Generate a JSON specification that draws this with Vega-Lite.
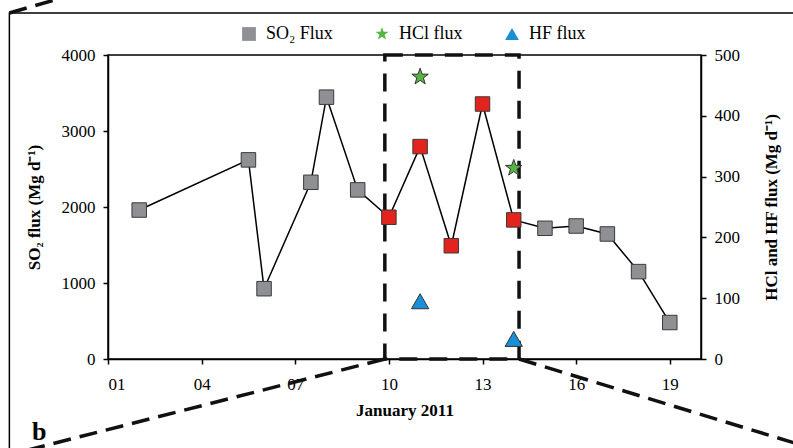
{
  "$schema": "https://vega.github.io/schema/vega-lite/v6.json",
  "width": 593,
  "height": 304,
  "autosize": {"type": "none"},
  "padding": {"left": 108, "top": 55, "right": 92, "bottom": 89},
  "background": "white",
  "datasets": {
    "so2": [
      {"day": 2, "so2": 1960, "series": "SO₂ Flux", "highlight": false},
      {"day": 5.5, "so2": 2620, "series": "SO₂ Flux", "highlight": false},
      {"day": 6, "so2": 925, "series": "SO₂ Flux", "highlight": false},
      {"day": 7.5, "so2": 2325, "series": "SO₂ Flux", "highlight": false},
      {"day": 8, "so2": 3445, "series": "SO₂ Flux", "highlight": false},
      {"day": 9, "so2": 2225, "series": "SO₂ Flux", "highlight": false},
      {"day": 10, "so2": 1865, "series": "SO₂ Flux", "highlight": true},
      {"day": 11, "so2": 2795, "series": "SO₂ Flux", "highlight": true},
      {"day": 12, "so2": 1490, "series": "SO₂ Flux", "highlight": true},
      {"day": 13, "so2": 3355, "series": "SO₂ Flux", "highlight": true},
      {"day": 14, "so2": 1830, "series": "SO₂ Flux", "highlight": true},
      {"day": 15, "so2": 1720, "series": "SO₂ Flux", "highlight": false},
      {"day": 16, "so2": 1750, "series": "SO₂ Flux", "highlight": false},
      {"day": 17, "so2": 1645, "series": "SO₂ Flux", "highlight": false},
      {"day": 18, "so2": 1150, "series": "SO₂ Flux", "highlight": false},
      {"day": 19, "so2": 480, "series": "SO₂ Flux", "highlight": false}
    ],
    "gas": [
      {"day": 11, "flux": 464, "series": "HCl flux"},
      {"day": 14, "flux": 314, "series": "HCl flux"},
      {"day": 11, "flux": 95, "series": "HF flux"},
      {"day": 14, "flux": 33, "series": "HF flux"}
    ],
    "frame": [
      {"x1": -2.16, "x2": 26, "y1": 4553, "y2": -1800}
    ],
    "box": [
      {"x1": 9.87, "x2": 14.17, "y1": 0, "y2": 4000}
    ],
    "zoomlines": [
      {"x1": 9.87, "y1": 0, "x2": -2.5, "y2": -1295},
      {"x1": 14.17, "y1": 0, "x2": 24.5, "y2": -1293},
      {"x1": -2.16, "y1": 4553, "x2": 1.5, "y2": 4984}
    ],
    "panel": [
      {"x": -1.2, "y": -960, "text": "b"}
    ]
  },
  "layer": [
    {
      "data": {"name": "frame"},
      "mark": {"type": "rect", "fill": "transparent", "stroke": "black", "strokeWidth": 1.5, "clip": false},
      "encoding": {
        "x": {"field": "x1", "type": "quantitative", "scale": {"domain": [1, 20], "nice": false, "zero": false},
          "axis": {"orient": "bottom", "values": [1, 4, 7, 10, 13, 16, 19], "labelExpr": "datum.value < 10 ? '0' + datum.value : '' + datum.value", "title": "January 2011", "labelPadding": 12, "titlePadding": 10}},
        "x2": {"field": "x2"},
        "y": {"field": "y1", "type": "quantitative", "scale": {"domain": [0, 4000], "nice": false, "zero": false}, "axis": null},
        "y2": {"field": "y2"}
      }
    },
    {
      "data": {"name": "panel"},
      "mark": {"type": "text", "font": "Liberation Serif", "fontWeight": "bold", "fontSize": 26, "color": "black", "align": "center", "baseline": "middle"},
      "encoding": {
        "x": {"field": "x", "type": "quantitative", "scale": {"domain": [1, 20], "nice": false, "zero": false}},
        "y": {"field": "y", "type": "quantitative", "scale": {"domain": [0, 4000], "nice": false, "zero": false}, "axis": null},
        "text": {"field": "text"}
      }
    },
    {
      "data": {"name": "box"},
      "mark": {"type": "rect", "fill": "transparent", "stroke": "#111", "strokeWidth": 3.5, "strokeDash": [18, 12], "clip": false},
      "encoding": {
        "x": {"field": "x1", "type": "quantitative", "scale": {"domain": [1, 20], "nice": false, "zero": false}},
        "x2": {"field": "x2"},
        "y": {"field": "y1", "type": "quantitative", "scale": {"domain": [0, 4000], "nice": false, "zero": false}, "axis": null},
        "y2": {"field": "y2"}
      }
    },
    {
      "data": {"name": "zoomlines"},
      "mark": {"type": "rule", "stroke": "#111", "strokeWidth": 3.5, "strokeDash": [18, 9], "clip": false},
      "encoding": {
        "x": {"field": "x1", "type": "quantitative", "scale": {"domain": [1, 20], "nice": false, "zero": false}},
        "x2": {"field": "x2"},
        "y": {"field": "y1", "type": "quantitative", "scale": {"domain": [0, 4000], "nice": false, "zero": false}, "axis": null},
        "y2": {"field": "y2"}
      }
    },
    {
      "data": {"name": "so2"},
      "mark": {"type": "line", "stroke": "black", "strokeWidth": 1.5},
      "encoding": {
        "x": {"field": "day", "type": "quantitative", "scale": {"domain": [1, 20], "nice": false, "zero": false}},
        "y": {"field": "so2", "type": "quantitative", "scale": {"domain": [0, 4000], "nice": false, "zero": false},
          "axis": {"orient": "left", "values": [0, 1000, 2000, 3000, 4000], "format": "d", "title": "SO₂ flux (Mg d⁻¹)", "labelPadding": 8, "titlePadding": 18}},
        "order": {"field": "day"}
      }
    },
    {
      "data": {"name": "so2"},
      "transform": [{"filter": "!datum.highlight"}],
      "mark": {"type": "point", "filled": true, "opacity": 1, "size": 210, "stroke": "#3a3a3a", "strokeWidth": 1},
      "encoding": {
        "x": {"field": "day", "type": "quantitative", "scale": {"domain": [1, 20], "nice": false, "zero": false}},
        "y": {"field": "so2", "type": "quantitative", "scale": {"domain": [0, 4000], "nice": false, "zero": false}, "axis": null},
        "fill": {"field": "series", "type": "nominal", "scale": {"domain": ["SO₂ Flux", "HCl flux", "HF flux"], "range": ["#8e9094", "#58b544", "#1b8fd6"]},
          "legend": {"title": null, "orient": "none", "legendX": 132, "legendY": -30, "direction": "horizontal"}},
        "shape": {"field": "series", "type": "nominal", "scale": {"domain": ["SO₂ Flux", "HCl flux", "HF flux"], "range": ["square", "M0,-1L0.235,-0.324L0.951,-0.309L0.38,0.124L0.588,0.809L0,0.4L-0.588,0.809L-0.38,0.124L-0.951,-0.309L-0.235,-0.324Z", "triangle-up"]},
          "legend": {"title": null, "orient": "none", "legendX": 132, "legendY": -30, "direction": "horizontal"}}
      }
    },
    {
      "data": {"name": "so2"},
      "transform": [{"filter": "datum.highlight"}],
      "mark": {"type": "point", "shape": "square", "filled": true, "opacity": 1, "size": 210, "fill": "#e2231e", "stroke": "#3a3a3a", "strokeWidth": 1},
      "encoding": {
        "x": {"field": "day", "type": "quantitative", "scale": {"domain": [1, 20], "nice": false, "zero": false}},
        "y": {"field": "so2", "type": "quantitative", "scale": {"domain": [0, 4000], "nice": false, "zero": false}, "axis": null}
      }
    },
    {
      "data": {"name": "gas"},
      "mark": {"type": "point", "filled": true, "opacity": 1, "size": 300, "stroke": "#333", "strokeWidth": 1},
      "encoding": {
        "x": {"field": "day", "type": "quantitative", "scale": {"domain": [1, 20], "nice": false, "zero": false}},
        "y": {"field": "flux", "type": "quantitative", "scale": {"domain": [0, 500], "nice": false, "zero": false},
          "axis": {"orient": "right", "values": [0, 100, 200, 300, 400, 500], "title": "HCl and HF flux (Mg d⁻¹)", "titleAngle": 270, "titleBaseline": "top", "labelPadding": 8, "titlePadding": 24}},
        "fill": {"field": "series", "type": "nominal", "scale": {"domain": ["SO₂ Flux", "HCl flux", "HF flux"], "range": ["#8e9094", "#58b544", "#1b8fd6"]},
          "legend": {"title": null, "orient": "none", "legendX": 132, "legendY": -30, "direction": "horizontal"}},
        "shape": {"field": "series", "type": "nominal", "scale": {"domain": ["SO₂ Flux", "HCl flux", "HF flux"], "range": ["square", "M0,-1L0.235,-0.324L0.951,-0.309L0.38,0.124L0.588,0.809L0,0.4L-0.588,0.809L-0.38,0.124L-0.951,-0.309L-0.235,-0.324Z", "triangle-up"]},
          "legend": {"title": null, "orient": "none", "legendX": 132, "legendY": -30, "direction": "horizontal"}}
      }
    }
  ],
  "resolve": {"scale": {"y": "independent"}},
  "config": {
    "font": "Liberation Serif",
    "view": {"stroke": "black", "strokeWidth": 1.5},
    "axis": {
      "grid": false,
      "domainColor": "black",
      "domainWidth": 1.5,
      "tickColor": "black",
      "tickWidth": 1.5,
      "tickSize": 5,
      "labelColor": "black",
      "labelFont": "Liberation Serif",
      "labelFontSize": 17,
      "titleColor": "black",
      "titleFont": "Liberation Serif",
      "titleFontSize": 17,
      "titleFontWeight": "bold"
    },
    "legend": {
      "labelFont": "Liberation Serif",
      "labelFontSize": 18,
      "labelColor": "black",
      "labelOffset": 8,
      "columnPadding": 40,
      "symbolSize": 190,
      "symbolStrokeColor": "#333",
      "symbolStrokeWidth": 1,
      "padding": 0
    }
  }
}
